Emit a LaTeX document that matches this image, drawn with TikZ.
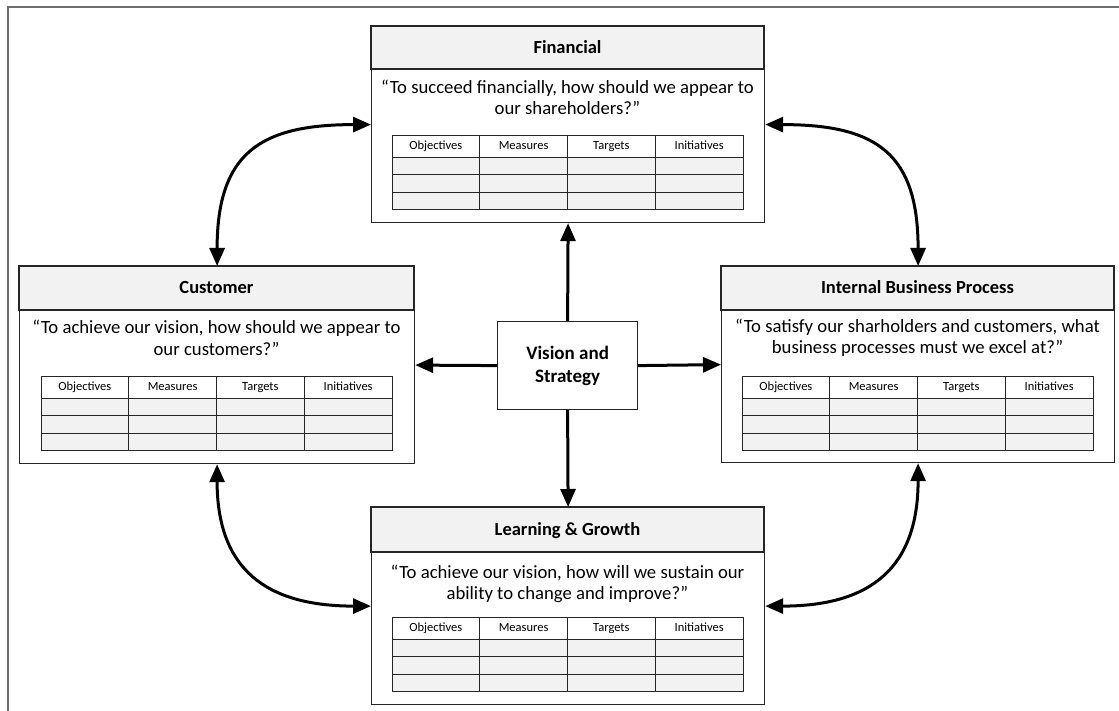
\documentclass[tikz,border=0pt]{standalone}
\usepackage{fontspec}
\setmainfont{Carlito}
\usetikzlibrary{arrows.meta}

\definecolor{panelgray}{HTML}{F2F2F2}
\definecolor{framegray}{HTML}{6E6E6E}
\definecolor{linedark}{HTML}{262626}

\tikzset{
  panel/.style={draw=linedark, line width=1.2pt, anchor=north west, inner sep=0pt},
  headband/.style={fill=panelgray, draw=linedark, line width=1.2pt},
  ptitle/.style={font=\fontsize{18.5}{22}\selectfont\bfseries, inner sep=0pt,
    text height=11.7pt, text depth=0pt},
  pquestion/.style={font=\fontsize{18.7}{21.5}\selectfont, align=center, inner sep=0pt},
  tbl/.style={draw=linedark, line width=0.9pt},
  thead/.style={font=\fontsize{12.5}{14}\selectfont, inner sep=0pt,
    text height=7.9pt, text depth=0pt},
  visionbox/.style={draw=linedark, line width=1.2pt, fill=white, anchor=north west,
    minimum width=140pt, minimum height=88pt, align=center,
    font=\fontsize{19}{23}\selectfont\bfseries},
  link/.style={line width=3pt, draw=black,
    -{Triangle[length=18pt,width=15pt]}},
  twoway/.style={line width=3pt, draw=black,
    {Triangle[length=18pt,width=15pt]}-{Triangle[length=18pt,width=15pt]}},
  outerframe/.style={draw=framegray, line width=2pt}
}

% scorecard grid: #1 name prefix, #2 left x, #3 top y
\newcommand\bsctable[3]{%
  \begin{scope}[shift={(#2,#3)}]
    \fill[panelgray] (0,22) rectangle (351,74);
    \foreach \yy in {22,39.5,57} \draw[tbl] (0,\yy) -- (351,\yy);
    \foreach \xx in {87.75,175.5,263.25} \draw[tbl] (\xx,0) -- (\xx,74);
    \draw[tbl] (0,0) rectangle (351,74);
    \node[thead] (#1-obj) at (43.875,11) {Objectives};
    \node[thead] (#1-mea) at (131.625,11) {Measures};
    \node[thead] (#1-tar) at (219.375,11) {Targets};
    \node[thead] (#1-ini) at (307.125,11) {Initiatives};
  \end{scope}}

\begin{document}
\begin{tikzpicture}[x=1pt,y=-1pt]
\useasboundingbox (0,0) rectangle (1119,711);

% outer frame (top and left edges)
\draw[outerframe] (8,711) -- (8,7) -- (1119,7);

% ---- Financial ----
\node[panel, minimum width=393pt, minimum height=196pt] (fin) at (371,26) {};
\draw[headband] (371,26) rectangle (764,69);
\node[ptitle] (fin-title) at (567.5,47.5) {Financial};
\node[pquestion] (fin-q) at (567.5,97.5)
  {“To succeed financially, how should we appear to\\our shareholders?”};
\bsctable{fin}{392}{135}

% ---- Customer ----
\node[panel, minimum width=395pt, minimum height=197pt] (cus) at (19,266) {};
\draw[headband] (19,266) rectangle (414,310);
\node[ptitle] (cus-title) at (216.5,288) {Customer};
\node[pquestion] (cus-q) at (216.5,338)
  {“To achieve our vision, how should we appear to\\our customers?”};
\bsctable{cus}{41}{376}

% ---- Internal Business Process ----
\node[panel, minimum width=393pt, minimum height=196pt] (ibp) at (721,266) {};
\draw[headband] (721,266) rectangle (1114,310);
\node[ptitle] (ibp-title) at (917.5,288) {Internal Business Process};
\node[pquestion] (ibp-q) at (917.5,338)
  {“To satisfy our sharholders and customers, what\\business processes must we excel at?”};
\bsctable{ibp}{742}{376}

% ---- Learning & Growth ----
\node[panel, minimum width=393pt, minimum height=197pt] (lrn) at (371,507) {};
\draw[headband] (371,507) rectangle (764,552);
\node[ptitle] (lrn-title) at (567.5,529.5) {Learning \& Growth};
\node[pquestion] (lrn-q) at (567.5,584)
  {“To achieve our vision, how will we sustain our\\ability to change and improve?”};
\bsctable{lrn}{392}{617}

% ---- Vision and Strategy ----
\node[visionbox] (vis) at (497,321) {Vision and\\Strategy};

% straight links from the centre
\draw[link] (vis.north) -- (fin.south);
\draw[link] (vis.south) -- (lrn.north);
\draw[link] (vis.west) -- (cus.east);
\draw[link] (vis.east) -- (ibp.west);

% curved two-way links between the perspectives
\draw[twoway] (fin.west) .. controls +(-112,0) and +(0,-112) .. (cus.north);
\draw[twoway] (fin.east) .. controls +(112,0) and +(0,-112) .. (ibp.north);
\draw[twoway] (cus.south) .. controls +(0,105) and +(-105,0) .. (lrn.west);
\draw[twoway] (ibp.south) .. controls +(0,105) and +(105,0) .. (lrn.east);
\end{tikzpicture}
\end{document}
